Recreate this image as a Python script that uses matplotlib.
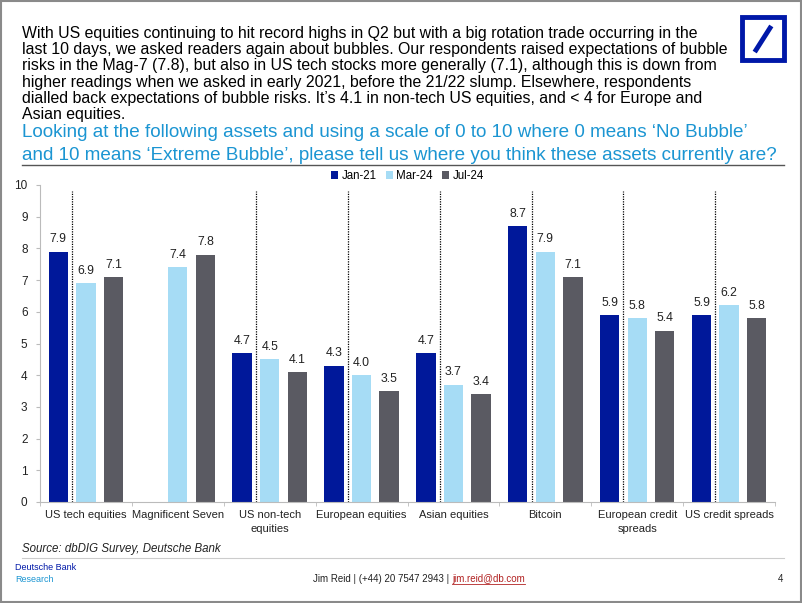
import numpy as np
import matplotlib.pyplot as plt
from matplotlib.patches import Rectangle
from matplotlib.lines import Line2D

categories = ["US tech equities", "Magnificent Seven", "US non-tech\nequities", "European equities",
              "Asian equities", "Bitcoin", "European credit\nspreads", "US credit spreads"]
jan21 = [7.9, np.nan, 4.7, 4.3, 4.7, 8.7, 5.9, 5.9]
mar24 = [6.9, 7.4, 4.5, 4.0, 3.7, 7.9, 5.8, 6.2]
jul24 = [7.1, 7.8, 4.1, 3.5, 3.4, 7.1, 5.4, 5.8]
series_names = ["Jan-21", "Mar-24", "Jul-24"]
colors = ["#00189A", "#A6DCF5", "#5A5A62"]

W, H = 802, 603
fig = plt.figure(figsize=(W / 100, H / 100), dpi=100)
plt.rcParams['font.family'] = ['Liberation Sans', 'DejaVu Sans']


def fx(px):
    return px / W


def fy(py):
    return 1 - py / H


# page frame
fig.patches.append(Rectangle((0.001, 0.001), 0.998, 0.997, transform=fig.transFigure,
                             fill=False, edgecolor='#8a8a8a', linewidth=1.5))

header = ("With US equities continuing to hit record highs in Q2 but with a big rotation trade occurring in the\n"
          "last 10 days, we asked readers again about bubbles. Our respondents raised expectations of bubble\n"
          "risks in the Mag-7 (7.8), but also in US tech stocks more generally (7.1), although this is down from\n"
          "higher readings when we asked in early 2021, before the 21/22 slump. Elsewhere, respondents\n"
          "dialled back expectations of bubble risks. It\u2019s 4.1 in non-tech US equities, and < 4 for Europe and\n"
          "Asian equities.")
fig.text(fx(22), fy(26), header, fontsize=11.4, color='black', va='top', ha='left', linespacing=1.1)

question = ("Looking at the following assets and using a scale of 0 to 10 where 0 means \u2018No Bubble\u2019\n"
            "and 10 means \u2018Extreme Bubble\u2019, please tell us where you think these assets currently are?")
fig.text(fx(22), fy(124), question, fontsize=13.6, color='#1B95D2', va='top', ha='left', linespacing=1.43)

fig.add_artist(Line2D([fx(22), fx(784)], [fy(165), fy(165)], color='#555555', linewidth=1))

# logo
fig.patches.append(Rectangle((fx(742), fy(60)), fx(42), 43 / H, transform=fig.transFigure,
                             fill=False, edgecolor='#0018A8', linewidth=3.5))
fig.add_artist(Line2D([fx(756), fx(770)], [fy(50), fy(28)], color='#0018A8', linewidth=3.5))

# chart
ax = fig.add_axes([fx(40), fy(502), fx(775) - fx(40), (502 - 185) / H])
x = np.arange(len(categories))
offsets = [-0.3, 0.0, 0.3]
width = 0.21
for vals, off, c, name in zip([jan21, mar24, jul24], offsets, colors, series_names):
    bars = ax.bar(x + off, vals, width, color=c, label=name)
    for xi, v in zip(x, vals):
        if not np.isnan(v):
            ax.text(xi + off, v + 0.2, f"{v:.1f}", ha='center', va='bottom', fontsize=8.8, color='#222222')

for i in x:
    if i != 1:
        ax.plot([i - 0.15, i - 0.15], [0, 9.8], color='black', linestyle=(0, (1, 1)), linewidth=0.9)

ax.set_xlim(-0.5, len(categories) - 0.5)
ax.set_ylim(0, 10)
ax.set_yticks(range(0, 11))
ax.set_xticks(x)
ax.set_xticklabels(categories, fontsize=8, color='#222222', linespacing=1.4)
ax.set_xticks(np.arange(-0.5, len(categories)), minor=True)
ax.tick_params(axis='x', which='major', length=0, pad=6)
ax.tick_params(axis='x', which='minor', length=3, color='#bbbbbb')
ax.tick_params(axis='y', length=3, color='#bbbbbb', labelsize=8.5, labelcolor='#222222', pad=6)
for s in ['top', 'right']:
    ax.spines[s].set_visible(False)
ax.spines['left'].set_color('#bbbbbb')
ax.spines['bottom'].set_color('#bbbbbb')
ax.set_facecolor('none')

ax.legend(loc='upper center', bbox_to_anchor=(0.5, 1.08), ncol=3, frameon=False, fontsize=8.3,
          handlelength=0.6, handleheight=0.6, handletextpad=0.3, columnspacing=0.8)

# footer
fig.text(fx(22), fy(549), "Source: dbDIG Survey, Deutsche Bank", fontsize=8.3, style='italic',
         va='center', ha='left', color='#222222')
fig.add_artist(Line2D([fx(22), fx(784)], [fy(558), fy(558)], color='#cccccc', linewidth=0.8))
fig.text(fx(15), fy(568), "Deutsche Bank", fontsize=6.5, color='#0018A8', va='center', ha='left')
fig.text(fx(15), fy(580), "Research", fontsize=6.5, color='#1B95D2', va='center', ha='left')
t1 = fig.text(fx(313), fy(579), "Jim Reid | (+44) 20 7547 2943 | ", fontsize=7, color='#222222',
              va='center', ha='left')
fig.canvas.draw()
bb = t1.get_window_extent()
fig.text(bb.x1 / W, fy(579), "jim.reid@db.com", fontsize=7, color='#B22222', va='center', ha='left')
bb2 = fig.texts[-1].get_window_extent()
fig.add_artist(Line2D([bb2.x0 / W, bb2.x1 / W], [fy(584), fy(584)], color='#B22222', linewidth=0.6))
fig.text(fx(781), fy(579), "4", fontsize=7, color='#222222', va='center', ha='center')

fig.savefig("out.png", dpi=100)
